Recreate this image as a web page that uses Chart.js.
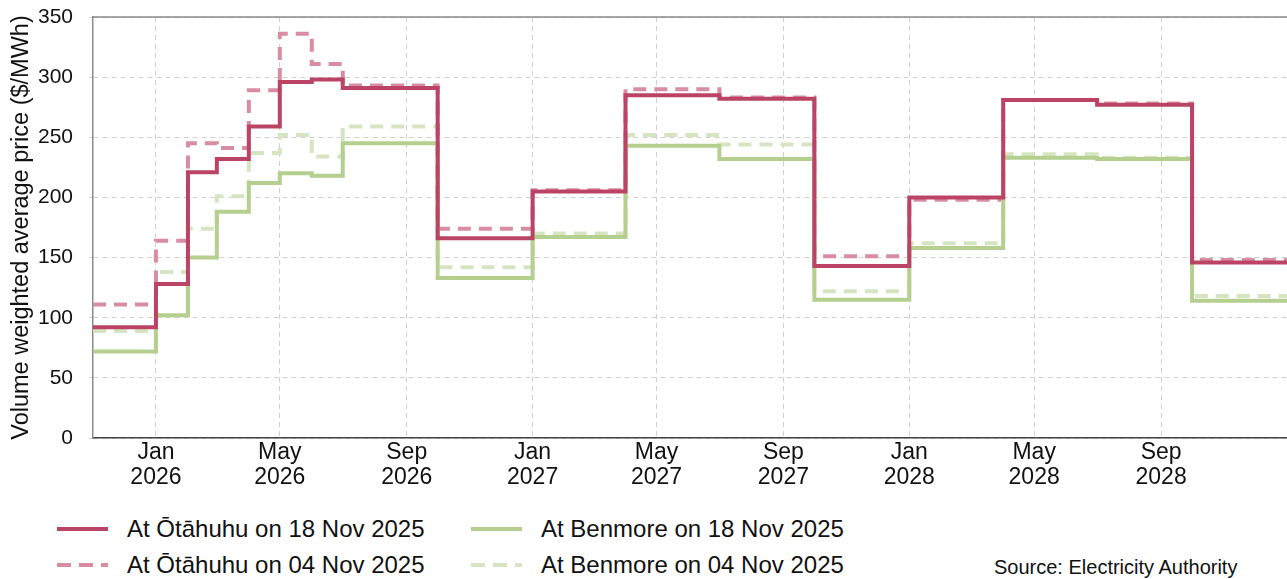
<!DOCTYPE html>
<html lang="en">
<head>
    <meta charset="UTF-8">
    <title>Volume weighted average price</title>
    <script src="https://cdn.jsdelivr.net/npm/chart.js"></script>
    <style>
        body {
            margin: 0;
            background: #ffffff;
            font-family: 'Liberation Sans', Arial, sans-serif;
        }
        .wrap {
            position: relative;
            width: 1287px;
            height: 579px;
            overflow: hidden;
        }
        #priceChart {
            position: absolute;
            left: 0;
            top: 0;
        }
        .legend-item {
            position: absolute;
            display: flex;
            align-items: center;
            height: 28px;
            font-size: 24px;
            color: #111;
            white-space: nowrap;
        }
        .legend-item svg {
            margin-right: 19px;
        }
        .source {
            position: absolute;
            left: 994px;
            top: 556px;
            font-size: 20px;
            color: #111;
        }
    </style>
</head>
<body>

<div class="wrap">
    <canvas id="priceChart" width="1287" height="500"></canvas>

    <!-- legend, 2 x 2 -->
    <div class="legend-item" style="left:57px; top:515px;">
        <svg width="51" height="6"><line x1="0" y1="3" x2="51" y2="3" stroke="#bb4466" stroke-width="4"/></svg>At Ōtāhuhu on 18 Nov 2025
    </div>
    <div class="legend-item" style="left:57px; top:551px;">
        <svg width="51" height="6"><line x1="0" y1="3" x2="51" y2="3" stroke="#d88da3" stroke-width="4" stroke-dasharray="14 8"/></svg>At Ōtāhuhu on 04 Nov 2025
    </div>
    <div class="legend-item" style="left:471px; top:515px;">
        <svg width="51" height="6"><line x1="0" y1="3" x2="51" y2="3" stroke="#b5cf8e" stroke-width="4"/></svg>At Benmore on 18 Nov 2025
    </div>
    <div class="legend-item" style="left:471px; top:551px;">
        <svg width="51" height="6"><line x1="0" y1="3" x2="51" y2="3" stroke="#d6e5c1" stroke-width="4" stroke-dasharray="14 8"/></svg>At Benmore on 04 Nov 2025
    </div>
    <div class="source">Source: Electricity Authority</div>
</div>

<script>
    // period start months (monthly to Jun 2026, then quarterly)
    const periodStarts = ['2025-11', '2026-01', '2026-02', '2026-03', '2026-04', '2026-05', '2026-06',
        '2026-07', '2026-10', '2027-01', '2027-04', '2027-07', '2027-10',
        '2028-01', '2028-04', '2028-07', '2028-10'];
    const periodEnd = '2029-01';

    const otahuhu18 = [92, 128, 221, 232, 259, 296, 298, 291, 166, 205, 285, 282, 143, 200, 281, 277, 146];
    const otahuhu04 = [111, 164, 245, 241, 289, 336, 311, 293, 174, 206, 290, 283, 151, 198, 281, 278, 148];
    const benmore18 = [72, 102, 150, 188, 212, 220, 218, 245, 133, 167, 243, 232, 115, 158, 233, 232, 114];
    const benmore04 = [89, 138, 174, 201, 237, 252, 234, 259, 142, 170, 252, 244, 122, 162, 236, 233, 118];

    const tickMonths = ['2026-01', '2026-05', '2026-09', '2027-01', '2027-05', '2027-09', '2028-01', '2028-05', '2028-09'];
    const tickLabels = [['Jan', '2026'], ['May', '2026'], ['Sep', '2026'],
        ['Jan', '2027'], ['May', '2027'], ['Sep', '2027'],
        ['Jan', '2028'], ['May', '2028'], ['Sep', '2028']];

    // days since the first period start
    function dayOf(ym) {
        const [y, m] = ym.split('-').map(Number);
        const [y0, m0] = periodStarts[0].split('-').map(Number);
        return (Date.UTC(y, m - 1, 1) - Date.UTC(y0, m0 - 1, 1)) / 86400000;
    }

    function stepPoints(values) {
        const pts = periodStarts.map((p, i) => ({x: dayOf(p), y: values[i]}));
        pts.push({x: dayOf(periodEnd), y: values[values.length - 1]});
        return pts;
    }

    const tickValues = tickMonths.map(dayOf);
    const gridColor = '#d0d0d0';
    const fontFamily = "'Liberation Sans', Arial, sans-serif";

    const topLine = {
        id: 'topLine',
        afterDraw(chart) {
            const {ctx, chartArea} = chart;
            ctx.save();
            ctx.strokeStyle = '#8a8a8a';
            ctx.lineWidth = 1.5;
            ctx.beginPath();
            ctx.moveTo(chartArea.left, chartArea.top);
            ctx.lineTo(chartArea.right, chartArea.top);
            ctx.stroke();
            ctx.restore();
        }
    };

    new Chart(document.getElementById('priceChart'), {
        type: 'line',
        data: {
            datasets: [
                {label: 'At Ōtāhuhu on 18 Nov 2025', data: stepPoints(otahuhu18), borderColor: '#bb4466', order: 0},
                {label: 'At Benmore on 18 Nov 2025', data: stepPoints(benmore18), borderColor: '#b5cf8e', order: 1},
                {label: 'At Ōtāhuhu on 04 Nov 2025', data: stepPoints(otahuhu04), borderColor: '#d88da3', borderDash: [13, 8], order: 2},
                {label: 'At Benmore on 04 Nov 2025', data: stepPoints(benmore04), borderColor: '#d6e5c1', borderDash: [13, 8], order: 3}
            ]
        },
        options: {
            responsive: false,
            animation: false,
            layout: {padding: {top: 17, right: 0, left: 0, bottom: 0}},
            elements: {
                line: {borderWidth: 4, stepped: true, tension: 0, fill: false, borderCapStyle: 'butt'},
                point: {radius: 0, hoverRadius: 0}
            },
            plugins: {
                legend: {display: false},
                tooltip: {enabled: false}
            },
            scales: {
                x: {
                    type: 'linear',
                    min: 0,
                    max: dayOf(periodEnd),
                    afterBuildTicks: scale => {
                        scale.ticks = tickValues.map(v => ({value: v}));
                    },
                    afterFit: scale => { scale.height = 62; },
                    ticks: {
                        autoSkip: false,
                        maxRotation: 0,
                        padding: 2,
                        color: '#111',
                        font: {family: fontFamily, size: 23, lineHeight: 1.09},
                        callback: value => tickLabels[tickValues.indexOf(value)]
                    },
                    grid: {color: gridColor, lineWidth: 1, drawTicks: false},
                    border: {color: '#444', width: 1.5, dash: [5, 4]}
                },
                y: {
                    min: 0,
                    max: 350,
                    afterFit: scale => {
                        scale.width = 93;
                        scale.paddingTop = 0;
                        scale.paddingBottom = 0;
                    },
                    ticks: {
                        stepSize: 50,
                        padding: 16,
                        color: '#111',
                        font: {family: fontFamily, size: 21}
                    },
                    grid: {color: gridColor, lineWidth: 1, tickLength: 4},
                    border: {color: '#8a8a8a', width: 1.5, dash: [5, 4]},
                    title: {
                        display: true,
                        text: 'Volume weighted average price ($/MWh)',
                        color: '#111',
                        padding: {top: 7, bottom: 0},
                        font: {family: fontFamily, size: 23.5}
                    }
                }
            }
        },
        plugins: [topLine]
    });
</script>

</body>
</html>
